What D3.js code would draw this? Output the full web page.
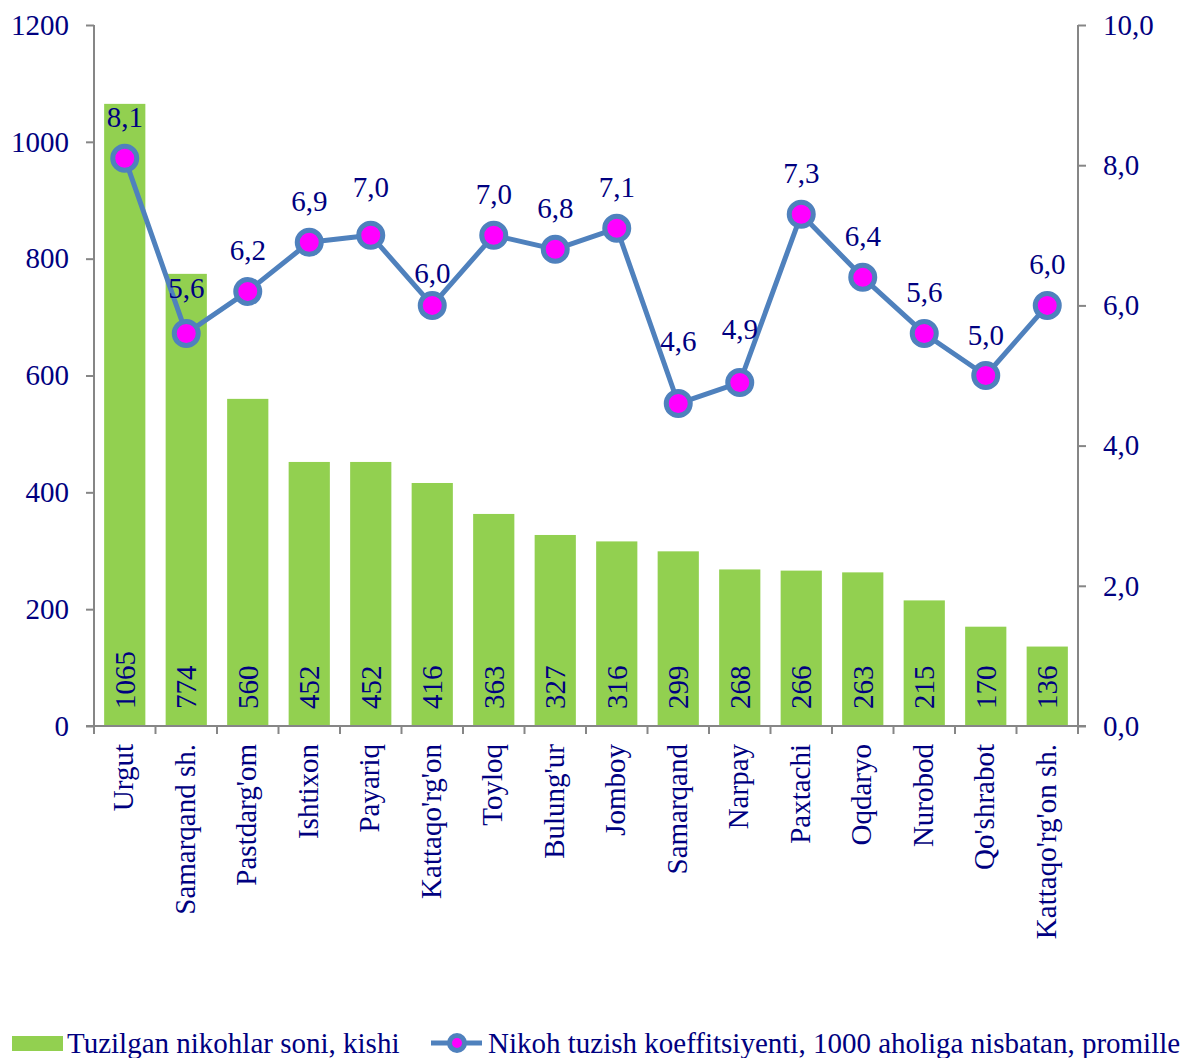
<!DOCTYPE html>
<html>
<head>
<meta charset="utf-8">
<script src="https://cdn.jsdelivr.net/npm/d3@7"></script>
<style>
  body { margin: 0; background: #fff; }
  svg text { font-family: "Times New Roman", "Liberation Serif", serif; fill: #000080; }
</style>
</head>
<body>
<div id="chart"></div>
<script>
var districts = ['Urgut', 'Samarqand sh.', "Pastdarg'om", 'Ishtixon', 'Payariq', "Kattaqo'rg'on",
    'Toyloq', "Bulung'ur", 'Jomboy', 'Samarqand', 'Narpay', 'Paxtachi', 'Oqdaryo', 'Nurobod',
    "Qo'shrabot", "Kattaqo'rg'on sh."]
var marriages = [1065, 774, 560, 452, 452, 416, 363, 327, 316, 299, 268, 266, 263, 215, 170, 136]
var rates = [8.1, 5.6, 6.2, 6.9, 7.0, 6.0, 7.0, 6.8, 7.1, 4.6, 4.9, 7.3, 6.4, 5.6, 5.0, 6.0]
var leftTicks = [0, 200, 400, 600, 800, 1000, 1200]
var rightTicks = [0, 2, 4, 6, 8, 10]
var barName = 'Tuzilgan nikohlar soni, kishi'
var lineName = 'Nikoh tuzish koeffitsiyenti, 1000 aholiga nisbatan, promille'

var width = 1189, height = 1058
var plotLeft = 94, plotRight = 1078, plotTop = 25, plotBottom = 726
var axisColor = '#868686', barColor = '#92D050', lineColor = '#4F81BD', dotColor = '#FF00FF'
var fontSize = 29
// a few rate labels were dragged by hand in the original, extra lift in px
var labelLift = {1: 4, 4: 7, 5: -9, 9: 22, 10: 13}

var svg = d3.select('#chart').append('svg')
    .attr('width', width)
    .attr('height', height)

/* scales */
var x = d3.scaleBand()
    .domain(districts)
    .range([plotLeft, plotRight])
    .paddingInner(0.33)
    .paddingOuter(0.165)

var yLeft = d3.scaleLinear().domain([0, 1200]).range([plotBottom, plotTop])
var yRight = d3.scaleLinear().domain([0, 10]).range([plotBottom, plotTop])
var comma = v => d3.format('.1f')(v).replace('.', ',')
var cx = (d, i) => x(districts[i]) + x.bandwidth() / 2

/* bars */
svg.append('g').selectAll('rect')
    .data(marriages).enter()
    .append('rect')
    .attr('x', (d, i) => x(districts[i]))
    .attr('y', d => yLeft(d))
    .attr('width', x.bandwidth())
    .attr('height', d => plotBottom - yLeft(d))
    .style('fill', barColor)

/* bar labels, rotated at the foot of each bar */
svg.append('g').selectAll('text')
    .data(marriages).enter()
    .append('text')
    .attr('transform', (d, i) => `translate(${cx(d, i)}, ${plotBottom - 17}) rotate(-90)`)
    .attr('dy', '0.35em')
    .style('font-size', fontSize + 'px')
    .style('text-anchor', 'start')
    .text(d => d)

/* left axis */
var yAxisL = d3.axisLeft(yLeft).tickValues(leftTicks).tickSize(8).tickPadding(17).tickFormat(d3.format('d'))
var gL = svg.append('g').attr('transform', `translate(${plotLeft},0)`).call(yAxisL)
gL.select('.domain').attr('d', `M0,${plotTop}V${plotBottom}`)

/* right axis */
var yAxisR = d3.axisRight(yRight).tickValues(rightTicks).tickSize(8).tickPadding(17).tickFormat(comma)
var gR = svg.append('g').attr('transform', `translate(${plotRight},0)`).call(yAxisR)
gR.select('.domain').attr('d', `M0,${plotTop}V${plotBottom}`)

;[gL, gR].forEach(g => {
    g.selectAll('.domain, line').attr('stroke', axisColor).attr('stroke-width', 2)
    g.selectAll('text').style('font-size', fontSize + 'px').attr('font-family', null).attr('fill', '#000080')
})

/* bottom axis: baseline plus ticks at band edges */
var gx = svg.append('g')
gx.append('line')
    .attr('x1', plotLeft - 8).attr('x2', plotRight + 8)
    .attr('y1', plotBottom).attr('y2', plotBottom)
    .attr('stroke', axisColor).attr('stroke-width', 2)
gx.selectAll('.xtick')
    .data(d3.range(districts.length + 1)).enter()
    .append('line')
    .attr('class', 'xtick')
    .attr('x1', i => plotLeft + i * x.step()).attr('x2', i => plotLeft + i * x.step())
    .attr('y1', plotBottom).attr('y2', plotBottom + 8)
    .attr('stroke', axisColor).attr('stroke-width', 2)
gx.selectAll('.xlabel')
    .data(districts).enter()
    .append('text')
    .attr('class', 'xlabel')
    .attr('transform', d => `translate(${x(d) + x.bandwidth() / 2}, ${plotBottom + 18}) rotate(-90)`)
    .attr('dy', '0.3em')
    .style('font-size', fontSize + 'px')
    .style('text-anchor', 'end')
    .text(d => d)

/* line series */
var line = d3.line()
    .x(cx)
    .y(d => yRight(d))

svg.append('path')
    .datum(rates)
    .attr('d', line)
    .style('fill', 'none')
    .style('stroke', lineColor)
    .style('stroke-width', 5)
    .style('stroke-linejoin', 'round')

svg.append('g').selectAll('circle')
    .data(rates).enter()
    .append('circle')
    .attr('cx', cx)
    .attr('cy', d => yRight(d))
    .attr('r', 12)
    .style('fill', dotColor)
    .style('stroke', lineColor)
    .style('stroke-width', 5)

svg.append('g').selectAll('text')
    .data(rates).enter()
    .append('text')
    .attr('x', cx)
    .attr('y', (d, i) => yRight(d) - 31 - (labelLift[i] || 0))
    .style('font-size', fontSize + 'px')
    .style('text-anchor', 'middle')
    .text(d => comma(d))

/* legend */
var lg = svg.append('g')
lg.append('rect').attr('x', 12).attr('y', 1036).attr('width', 51).attr('height', 15).style('fill', barColor)
lg.append('text').attr('x', 67).attr('y', 1053).style('font-size', fontSize + 'px').text(barName)
lg.append('line').attr('x1', 431).attr('x2', 482).attr('y1', 1043).attr('y2', 1043)
    .style('stroke', lineColor).style('stroke-width', 5)
lg.append('circle').attr('cx', 457).attr('cy', 1043).attr('r', 7.5)
    .style('fill', dotColor).style('stroke', lineColor).style('stroke-width', 5)
lg.append('text').attr('x', 488).attr('y', 1053).style('font-size', fontSize + 'px').text(lineName)
</script>
</body>
</html>
